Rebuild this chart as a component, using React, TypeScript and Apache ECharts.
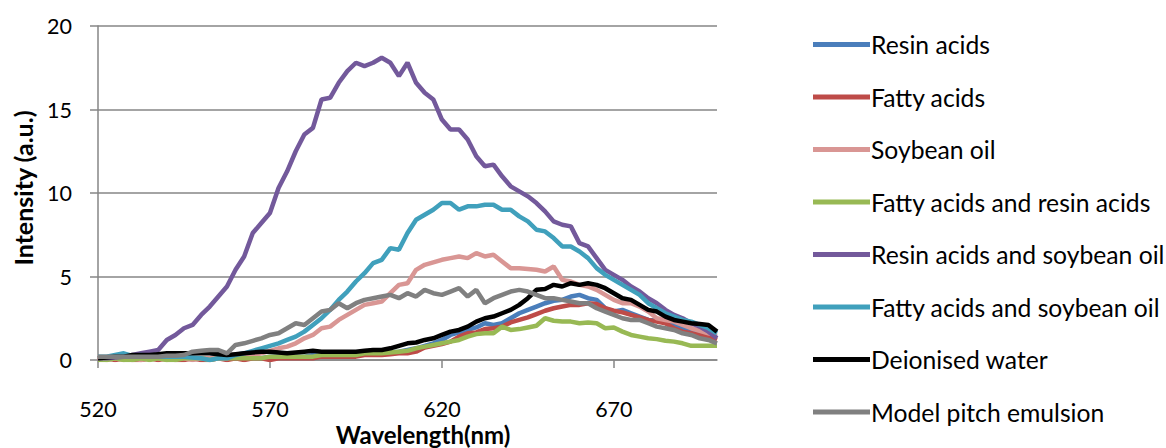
import React, { useEffect, useRef } from "react";
import * as echarts from "echarts";

// wavelengths 520..700 nm in 2.5 nm steps (73 points)
const wavelengths: number[] = [];
for (let i = 0; i <= 72; i++) wavelengths.push(520 + i * 2.5);

const xTicks = [520, 570, 620, 670];

const resinAcids = [0.1,0.1,0.1,0.1,0.1,0.2,0.1,0.1,0.1,0.1,0.1,0.1,0.1,0.1,0.2,0.1,0.1,0.2,0.2,0.1,0.2,0.2,0.2,0.2,0.2,0.3,0.3,0.3,0.3,0.3,0.3,0.4,0.4,
  0.4,0.45,0.5,0.6,0.7,0.85,1.0,1.2,1.5,1.65,1.8,1.95,2.2,2.1,2.2,2.5,2.8,3.0,3.2,3.4,3.55,3.6,3.8,3.9,3.7,3.6,3.1,2.9,3.0,2.8,2.6,2.4,2.35,2.3,2.05,1.9,1.8,1.6,1.5,1.4];
const fattyAcids = [0.0,0.1,0.0,0.1,0.0,0.0,0.1,0.0,0.1,0.0,0.0,0.1,0.0,0.0,0.1,0.0,0.1,0.0,0.1,0.1,0.0,0.1,0.1,0.1,0.1,0.1,0.2,0.2,0.2,0.2,0.2,0.3,0.3,
  0.3,0.35,0.4,0.4,0.5,0.75,0.85,0.95,1.1,1.4,1.6,1.65,1.85,1.9,2.0,2.25,2.4,2.55,2.75,2.95,3.1,3.2,3.3,3.3,3.4,3.35,3.1,2.95,2.85,2.7,2.55,2.4,2.3,2.2,1.9,1.7,1.6,1.5,1.4,1.2];
const soybeanOil = [0.1,0.0,0.1,0.0,0.1,0.0,0.1,0.1,0.0,0.1,0.1,0.0,0.1,0.1,0.1,0.1,0.2,0.2,0.3,0.4,0.55,0.7,0.8,1.0,1.3,1.5,1.9,2.0,2.4,2.7,3.0,3.3,3.4,
  3.5,4.0,4.5,4.6,5.4,5.7,5.85,6.0,6.1,6.2,6.1,6.4,6.2,6.3,5.9,5.5,5.5,5.45,5.4,5.3,5.6,4.8,4.7,4.5,4.4,4.2,3.9,3.6,3.4,3.4,3.2,2.9,2.5,2.4,2.3,2.1,1.9,1.75,1.6,1.5];
const fattyResin = [0.0,0.0,0.1,0.0,0.0,0.1,0.0,0.1,0.0,0.0,0.1,0.1,0.1,0.0,0.1,0.1,0.1,0.1,0.1,0.1,0.2,0.2,0.2,0.2,0.2,0.2,0.3,0.3,0.3,0.3,0.3,0.4,0.4,
  0.4,0.45,0.5,0.55,0.7,0.8,0.9,1.0,1.1,1.2,1.4,1.55,1.6,1.6,2.0,1.8,1.85,1.95,2.05,2.5,2.35,2.3,2.3,2.2,2.25,2.2,1.9,1.95,1.7,1.5,1.4,1.3,1.25,1.15,1.1,1.0,0.85,0.85,0.85,0.85];
const resinSoybean = [0.1,0.1,0.15,0.2,0.3,0.4,0.5,0.6,1.2,1.5,1.9,2.1,2.7,3.2,3.8,4.4,5.4,6.2,7.6,8.2,8.8,10.3,11.3,12.5,13.5,13.9,15.6,15.7,16.6,17.3,17.8,17.6,17.8,
  18.1,17.8,17.0,17.8,16.6,16.0,15.6,14.4,13.8,13.8,13.2,12.2,11.6,11.7,11.0,10.4,10.1,9.8,9.4,8.9,8.3,8.1,8.0,7.0,6.8,6.1,5.4,5.1,4.8,4.4,4.1,3.7,3.4,3.0,2.7,2.5,2.2,2.0,1.7,1.3];
const fattySoybean = [0.2,0.2,0.3,0.4,0.25,0.3,0.2,0.2,0.2,0.2,0.2,0.15,0.1,0.0,0.1,0.1,0.3,0.4,0.55,0.7,0.85,1.0,1.2,1.4,1.7,2.1,2.5,3.0,3.6,4.1,4.7,5.2,5.8,
  6.0,6.7,6.6,7.6,8.4,8.7,9.0,9.4,9.4,9.0,9.2,9.2,9.3,9.3,9.0,9.0,8.6,8.3,7.8,7.7,7.3,6.8,6.8,6.5,6.1,5.5,5.1,4.8,4.5,4.2,3.9,3.4,3.1,2.8,2.6,2.4,2.3,2.1,1.9,1.6];
const deionisedWater = [0.1,0.15,0.2,0.2,0.3,0.3,0.3,0.35,0.4,0.4,0.4,0.4,0.4,0.4,0.35,0.3,0.35,0.4,0.45,0.5,0.5,0.45,0.4,0.45,0.5,0.55,0.5,0.5,0.5,0.5,0.5,0.55,0.6,
  0.6,0.7,0.85,1.0,1.05,1.2,1.3,1.5,1.7,1.8,2.0,2.3,2.5,2.6,2.8,3.0,3.3,3.7,4.2,4.25,4.5,4.4,4.6,4.5,4.6,4.5,4.3,4.0,3.7,3.6,3.3,3.0,2.9,2.6,2.4,2.3,2.2,2.15,2.1,1.7];
const modelPitch = [0.2,0.2,0.2,0.2,0.2,0.2,0.2,0.2,0.25,0.25,0.3,0.5,0.55,0.6,0.6,0.4,0.9,1.0,1.15,1.3,1.5,1.6,1.9,2.2,2.1,2.5,2.9,3.0,3.4,3.1,3.4,3.6,3.7,
  3.8,3.9,3.7,4.0,3.8,4.2,4.0,3.9,4.1,4.3,3.8,4.2,3.4,3.7,3.9,4.1,4.2,4.1,3.9,3.7,3.7,3.6,3.5,3.4,3.4,3.1,2.9,2.7,2.5,2.4,2.4,2.2,2.0,1.9,1.8,1.6,1.5,1.3,1.2,1.0];

const seriesNames = [
  "Resin acids",
  "Fatty acids",
  "Soybean oil",
  "Fatty acids and resin acids",
  "Resin acids and soybean oil",
  "Fatty acids and soybean oil",
  "Deionised water",
  "Model pitch emulsion",
];
const seriesValues = [resinAcids, fattyAcids, soybeanOil, fattyResin, resinSoybean, fattySoybean, deionisedWater, modelPitch];
const seriesColors = ["#4A7EBB", "#BE4B48", "#D99694", "#98B954", "#73599B", "#40A0BC", "#000000", "#808080"];

const xTitle = "Wavelength(nm)";
const yTitle = "Intensity (a.u.)";

const FONT = "Lato";

export default function App() {
  const ref = useRef<HTMLDivElement>(null);
  useEffect(() => {
    if (!ref.current) return;
    const chart = echarts.init(ref.current, undefined, { renderer: "svg" });
    chart.setOption({
      animation: false,
      textStyle: { fontFamily: FONT },
      grid: { left: 98, right: 449, top: 26, bottom: 88, containLabel: false, outerBoundsMode: "none" },
      legend: {
        orient: "vertical",
        left: 808,
        top: 27,
        itemWidth: 57,
        itemHeight: 5,
        itemGap: 27.5,
        icon: "rect",
        textStyle: { fontSize: 24.7, lineHeight: 24, color: "#000", fontFamily: FONT, padding: [0, 0, 0, -4] },
        data: seriesNames,
      },
      graphic: [
        {
          type: "text",
          x: 423,
          y: 434,
          style: {
            text: xTitle,
            fill: "#000",
            font: `bold 24px ${FONT}`,
            textAlign: "center",
            textVerticalAlign: "middle",
          },
        },
      ],
      xAxis: {
        type: "value",
        min: 520,
        max: 700,
        interval: 50,
        axisLine: { lineStyle: { color: "#868686", width: 1.5 } },
        axisTick: { show: true, inside: false, length: 8, customValues: xTicks, lineStyle: { color: "#868686", width: 1.5 } },
        axisLabel: { customValues: xTicks, fontSize: 21.5, color: "#000", margin: 38 },
        splitLine: { show: false },
      },
      yAxis: {
        type: "value",
        min: 0,
        max: 20,
        interval: 5,
        name: yTitle,
        nameLocation: "middle",
        nameGap: 63,
        nameTextStyle: { fontSize: 25, fontWeight: "bold", color: "#000", padding: [0, 0, 0, 10] },
        axisLine: { show: true, lineStyle: { color: "#868686", width: 1.5 } },
        axisTick: { show: true, length: 8, lineStyle: { color: "#868686", width: 1.5 } },
        axisLabel: { fontSize: 21.5, color: "#000", margin: 26 },
        splitLine: { show: true, lineStyle: { color: "#868686", width: 1.5 } },
      },
      series: seriesNames.map((name, k) => ({
        name,
        type: "line",
        data: wavelengths.map((w, i) => [w, seriesValues[k][i]]),
        showSymbol: false,
        symbol: "none",
        lineStyle: { color: seriesColors[k], width: 4.5 },
        itemStyle: { color: seriesColors[k] },
        color: seriesColors[k],
      })),
    });
    return () => chart.dispose();
  }, []);
  return (
    <div
      ref={ref}
      style={{ position: "absolute", left: 0, top: 0, width: 1166, height: 448 }}
    />
  );
}
